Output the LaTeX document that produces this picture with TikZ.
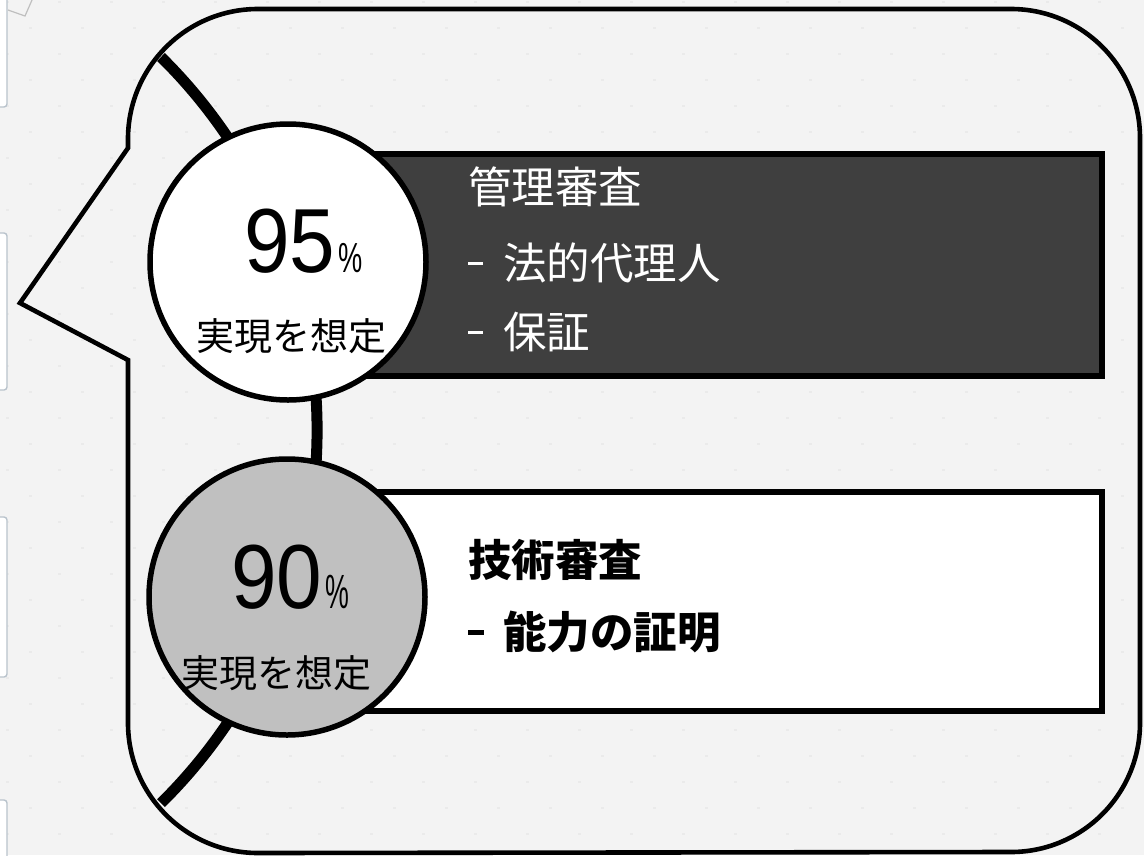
\documentclass[tikz,border=0pt]{standalone}
\usepackage{fontspec}
\usepackage{graphicx}
\setmainfont{Noto Sans CJK JP}
\newfontfamily\numfont[FakeStretch=0.9]{Liberation Sans}
\definecolor{bgc}{HTML}{F3F3F3}
\definecolor{dotc}{HTML}{EAEAEA}
\definecolor{darkbox}{HTML}{3F3F3F}
\definecolor{graycirc}{HTML}{C0C0C0}
\definecolor{barc}{HTML}{B9C3CC}
\newcommand{\regdash}{\rule[0.33em]{15pt}{3pt}\hspace{20pt}}
\newcommand{\bolddash}{\rule[0.32em]{16pt}{4.5pt}\hspace{19pt}}
\tikzset{
  outline/.style={line width=4.6pt, line join=miter},
  spine/.style={line width=11pt},
  ratecirc/.style={circle, draw, line width=5.5pt, minimum size=276pt, inner sep=0pt},
  infobox/.style={rectangle, draw, line width=6pt, minimum width=799pt, inner sep=0pt, anchor=north west},
  jptext/.style={anchor=west, inner sep=0pt, font=\fontsize{43.5}{43.5}\selectfont},
  jpbold/.style={anchor=west, inner sep=0pt, font=\fontsize{43.5}{43.5}\selectfont\bfseries},
  captext/.style={inner sep=0pt, font=\fontsize{38}{38}\selectfont},
  sidebar/.style={draw=barc, fill=white!97!bgc, line width=1.4pt, rounded corners=3pt}
}
\begin{document}
\begin{tikzpicture}[x=1pt,y=-1pt]
\useasboundingbox (0,0) rectangle (1144,855);
\fill[bgc] (0,0) rectangle (1144,855);
% faint dot grid
\foreach \yy in {27,79,...,855} {
  \foreach \xx in {29,81,...,1144} { \fill[dotc] (\xx,\yy) rectangle ++(3,2); }
}
\foreach \yy in {1,53,...,855} {
  \foreach \xx in {6,58,...,1144} { \fill[dotc] (\xx,\yy) rectangle ++(3,2); }
}
% partial side elements at left edge
\draw[sidebar] (-10,-10) rectangle (7,107);
\draw[sidebar] (-10,233) rectangle (7,390);
\draw[sidebar] (-10,517) rectangle (7,677);
\draw[sidebar] (-10,800) rectangle (7,870);
\draw[draw=black!25, line width=1.2pt] (8,10) -- (25,16) -- (32,0);
% callout outline
\draw[outline] (20,303) -- (128,360) -- (128,723)
  arc[start angle=180, end angle=90, radius=130] -- (1011,852)
  arc[start angle=90, end angle=0, radius=129] -- (1140,138)
  arc[start angle=0, end angle=-90, radius=129] -- (258,9)
  arc[start angle=-90, end angle=-180, radius=130] -- (128,148) -- cycle;
% thick spine arc
\coordinate (spinetop) at (161,57);
\draw[spine] (spinetop) arc[start angle=-45.4, end angle=45.4, radius=524];
% boxes
\node (box1) [infobox, fill=darkbox, minimum height=222pt] at (300,151) {};
\node (box2) [infobox, fill=white, minimum height=219pt] at (300,489) {};
% circles
\node (c1) [ratecirc, fill=white] at (288,262) {};
\node (c2) [ratecirc, fill=graycirc] at (287,597) {};
% circle texts
\node (p1) [anchor=base west, inner sep=0pt] at (244,272)
  {\numfont\fontsize{91}{91}\selectfont 95\hspace{3pt}\scalebox{0.72}[1]{\fontsize{42}{42}\selectfont\%}};
\node (r1) [captext] at (291,336) {実現を想定};
\node (p2) [anchor=base west, inner sep=0pt] at (231,608)
  {\numfont\fontsize{91}{91}\selectfont 90\hspace{3pt}\scalebox{0.62}[1]{\fontsize{48}{48}\selectfont\%}};
\node (r2) [captext] at (276,673) {実現を想定};
% box texts
\node (t11) [jptext, text=white] at (468,187) {管理審査};
\node (t12) [jptext, text=white] at (468,263) {\regdash 法的代理人};
\node (t13) [jptext, text=white] at (468,332) {\regdash 保証};
\node (t21) [jpbold] at (468,560) {技術審査};
\node (t22) [jpbold] at (468,632) {\bolddash 能力の証明};
\end{tikzpicture}
\end{document}
